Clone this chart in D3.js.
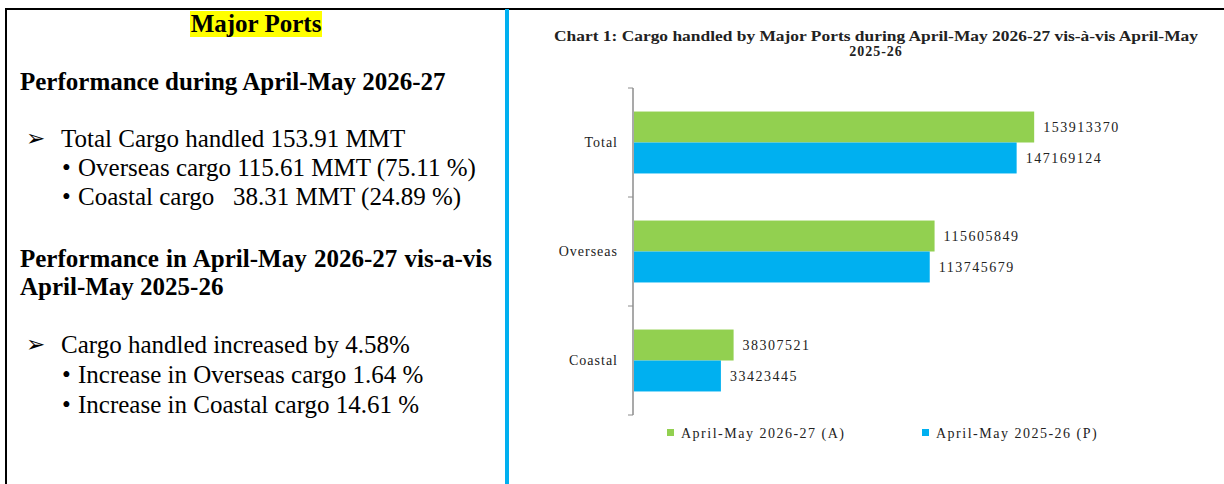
<!DOCTYPE html>
<html>
<head>
<meta charset="utf-8">
<script src="https://cdn.jsdelivr.net/npm/d3@7"></script>
<style>
  body { margin: 0; background: #fff; }
</style>
</head>
<body>
<div id="chart"></div>
<script>
// Chart data
const categories = ["Total", "Overseas", "Coastal"];
const seriesNames = ["April-May 2026-27 (A)", "April-May 2025-26 (P)"];
const cargoCurrent = [153913370, 115605849, 38307521];
const cargoPrevious = [147169124, 113745679, 33423445];
const seriesColors = ["#92d050", "#00b0f0"];

// Left panel text
const heading = "Major Ports";
const perfTitle = "Performance during April-May 2026-27";
const perfMain = "Total Cargo handled 153.91 MMT";
const perfBullets = ["Overseas cargo 115.61 MMT (75.11 %)", "Coastal cargo\u00a0\u00a0\u00a038.31 MMT (24.89 %)"];
const compTitle = ["Performance in April-May 2026-27 vis-a-vis", "April-May 2025-26"];
const compMain = "Cargo handled increased by 4.58%";
const compBullets = ["Increase in Overseas cargo 1.64 %", "Increase in Coastal cargo 14.61 %"];

const width = 1224, height = 484;
const serif = "'Liberation Serif', Tinos, 'Times New Roman', 'DejaVu Serif', serif";

const svg = d3.select("#chart").append("svg")
    .attr("width", width)
    .attr("height", height)
    .attr("font-family", serif);

// Frame lines
svg.append("line").attr("x1", 5).attr("x2", width).attr("y1", 9).attr("y2", 9)
    .attr("stroke", "#000").attr("stroke-width", 2);
svg.append("line").attr("x1", 6).attr("x2", 6).attr("y1", 8).attr("y2", height)
    .attr("stroke", "#000").attr("stroke-width", 2);
svg.append("line").attr("x1", 507).attr("x2", 507).attr("y1", 9).attr("y2", height)
    .attr("stroke", "#00b0f0").attr("stroke-width", 4);

// ---- left panel ----
const left = svg.append("g").style("fill", "#000");

left.append("rect").attr("x", 190).attr("y", 11).attr("width", 132).attr("height", 26)
    .attr("fill", "#ffff00");
left.append("text").attr("x", 256).attr("y", 32).attr("text-anchor", "middle")
    .style("font-size", "25px").style("font-weight", "bold").text(heading);

left.append("text").attr("x", 20).attr("y", 90)
    .style("font-size", "25px").style("font-weight", "bold").text(perfTitle);

function arrowLine(y, txt) {
  left.append("text").attr("x", 26).attr("y", y - 1)
      .attr("font-family", "'DejaVu Sans', sans-serif").style("font-size", "23px").text("\u27a2");
  left.append("text").attr("x", 61).attr("y", y).style("font-size", "25px").text(txt);
}
function bulletLine(y, txt) {
  left.append("text").attr("x", 62).attr("y", y).style("font-size", "25px").text("\u2022");
  left.append("text").attr("x", 78).attr("y", y).style("font-size", "25px").text(txt);
}

arrowLine(147, perfMain);
perfBullets.forEach((t, i) => bulletLine(176 + i * 29, t));

compTitle.forEach((t, i) => {
  left.append("text").attr("x", 20).attr("y", 267 + i * 28)
      .style("font-size", "25px").style("font-weight", "bold")
      .style("word-spacing", i === 0 ? "1px" : "0px").text(t);
});

arrowLine(353, compMain);
compBullets.forEach((t, i) => bulletLine(383 + i * 30, t));

// ---- right panel: bar chart ----
const chart = svg.append("g").style("fill", "#222");

chart.append("text").attr("x", 876).attr("y", 41).attr("text-anchor", "middle")
    .attr("textLength", 644).attr("lengthAdjust", "spacingAndGlyphs")
    .style("font-size", "14px").style("font-weight", "bold")
    .text("Chart 1: Cargo handled by Major Ports during April-May 2026-27 vis-\u00e0-vis April-May");
chart.append("text").attr("x", 876).attr("y", 56).attr("text-anchor", "middle")
    .style("font-size", "14px").style("font-weight", "bold")
    .style("letter-spacing", "1px").text("2025-26");

const xScale = d3.scaleLinear()
    .domain([0, 160000000])
    .range([634, 1050]);

const yScale = d3.scaleBand()
    .domain(categories)
    .range([88, 415])
    .padding(0);

const ySub = d3.scaleBand()
    .domain(seriesNames)
    .range([0, yScale.bandwidth()])
    .paddingInner(0)
    .paddingOuter(0.76);

const rows = categories.map((c, i) => ({
  category: c,
  values: [
    {series: seriesNames[0], value: cargoCurrent[i], color: seriesColors[0]},
    {series: seriesNames[1], value: cargoPrevious[i], color: seriesColors[1]}
  ]
}));

const groups = chart.selectAll("g.cat")
    .data(rows)
    .join("g")
    .attr("class", "cat")
    .attr("transform", d => `translate(0,${yScale(d.category)})`);

groups.selectAll("rect")
    .data(d => d.values)
    .join("rect")
    .attr("x", xScale(0))
    .attr("y", d => ySub(d.series))
    .attr("width", d => xScale(d.value) - xScale(0))
    .attr("height", ySub.bandwidth())
    .attr("fill", d => d.color);

groups.selectAll("text.val")
    .data(d => d.values)
    .join("text")
    .attr("class", "val")
    .attr("x", d => xScale(d.value) + 9)
    .attr("y", d => ySub(d.series) + ySub.bandwidth() / 2)
    .attr("dy", "0.35em")
    .style("font-size", "14px")
    .style("letter-spacing", "1.5px")
    .text(d => d.value);

// Category axis (ticks at band boundaries)
const axisX = xScale(0) - 1;
chart.append("line")
    .attr("x1", axisX).attr("x2", axisX)
    .attr("y1", yScale.range()[0]).attr("y2", yScale.range()[1])
    .attr("stroke", "#8c8c8c").attr("stroke-width", 1.5);

const boundaries = categories.map(c => yScale(c)).concat([yScale.range()[1]]);
chart.selectAll("line.tick")
    .data(boundaries)
    .join("line")
    .attr("class", "tick")
    .attr("x1", axisX - 5).attr("x2", axisX)
    .attr("y1", d => d).attr("y2", d => d)
    .attr("stroke", "#8c8c8c").attr("stroke-width", 1);

chart.selectAll("text.cat")
    .data(categories)
    .join("text")
    .attr("class", "cat")
    .attr("x", 618)
    .attr("y", d => yScale(d) + yScale.bandwidth() / 2)
    .attr("dy", "0.35em")
    .attr("text-anchor", "end")
    .style("font-size", "14px")
    .style("letter-spacing", "1px")
    .text(d => d);

// Legend
const legendX = [667, 922];
const legend = chart.selectAll("g.legend")
    .data(seriesNames)
    .join("g")
    .attr("class", "legend")
    .attr("transform", (d, i) => `translate(${legendX[i]},433)`);

legend.append("rect")
    .attr("x", 0).attr("y", -4)
    .attr("width", 7).attr("height", 7)
    .attr("fill", (d, i) => seriesColors[i]);

legend.append("text")
    .attr("x", 14).attr("y", 0)
    .attr("dy", "0.35em")
    .style("font-size", "14px")
    .style("letter-spacing", "1.5px")
    .text(d => d);
</script>
</body>
</html>
